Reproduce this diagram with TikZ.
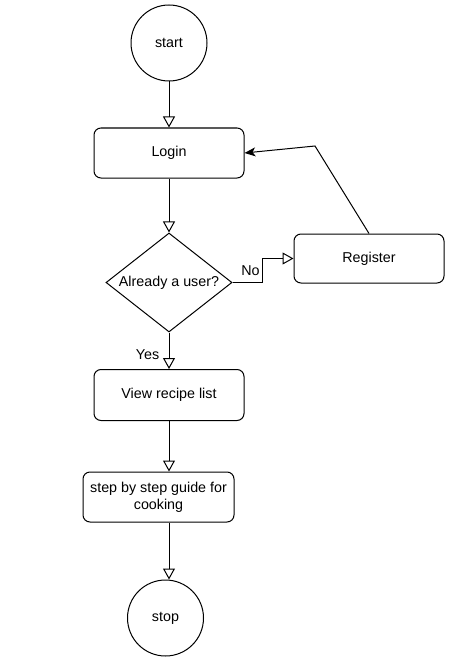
\documentclass[tikz,border=0pt]{standalone}
\usepackage{fontspec}
\setmainfont{Liberation Sans}
\usetikzlibrary{shapes.geometric,arrows.meta}
\begin{document}
\begin{tikzpicture}[x=1pt,y=-1pt,font=\fontsize{14.3}{17}\selectfont]
        \tikzset{circles/.style={draw, circle, line width=1pt, minimum size=76pt, inner sep=0pt},
                 boxes/.style={draw, rounded corners=7pt, line width=1pt, minimum width=150pt, minimum height=50pt, inner sep=2pt, align=center},
                 decision/.style={draw, diamond, aspect=1.3, line width=1pt, minimum width=126pt, minimum height=99pt, inner sep=0pt},
                 flow/.style={line width=1pt, -{Triangle[open, length=11pt, width=12pt]}}}
        \useasboundingbox (0,0) rectangle (466,666);
        \node [circles]  (start)    at (169, 43)    {start};
        \node [boxes]    (login)    at (169, 153)   {Login};
        \node [decision] (ask)      at (169, 282.5) {Already a user?};
        \node [boxes, minimum height=49pt] (register) at (369, 258.5) {Register};
        \node [boxes, minimum height=51pt] (view)     at (169, 395)   {View recipe list};
        \node [boxes, minimum width=151pt] (guide)    at (158.5, 497) {step by step guide for\\cooking};
        \node [circles]  (stop)     at (165.5, 618) {stop};
        \coordinate (bend) at (315, 146);
        \draw [flow] (start) -- (login);
        \draw [flow] (login) -- (ask);
        \draw [flow] (ask.east) -- ++(30,0) node [pos=0.6, above=3pt] {No} |- (register);
        \draw [line width=1pt, -{Stealth[length=11pt, width=9pt, inset=3pt]}] (register.north) -- (bend) -- (login.east);
        \draw [flow] (ask.south) -- node [left=6pt, pos=0.6] {Yes} (view);
        \draw [flow] (view.south) -- (view.south |- guide.north);
        \draw [flow] (view.south |- guide.south) -- (view.south |- stop.north);
    \end{tikzpicture}
\end{document}
